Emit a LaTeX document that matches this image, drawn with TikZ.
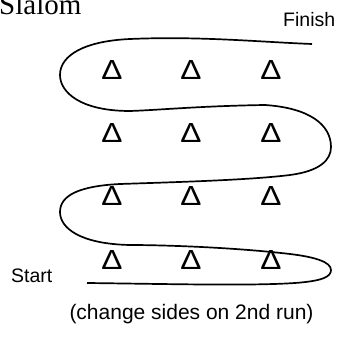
\documentclass[tikz,border=0pt]{standalone}
\usepackage{fontspec}
\setmainfont{Liberation Serif}
\newfontfamily\arial{Liberation Sans}
\begin{document}
\begin{tikzpicture}[x=1pt,y=-1pt,
  cone/.style={inner sep=0pt,font=\arial\fontsize{24}{24}\selectfont},
  lbl/.style={inner sep=0pt,anchor=base west,font=\arial\fontsize{19.5}{20}\selectfont},
  course/.style={line width=1.7pt}]
\useasboundingbox (0,0) rectangle (341,337);
\clip (0,0) rectangle (341,337);
\node[inner sep=0pt,anchor=base west,font=\fontsize{29}{30}\selectfont] (title) at (-1,15) {Slalom};
\node[lbl] (finish) at (283,27) {Finish};
\node[lbl] (start) at (11,283) {Start};
\node[inner sep=0pt,anchor=base,font=\arial\fontsize{21}{22}\selectfont] (note) at (191.5,320) {(change sides on 2nd run)};
\foreach \r/\y in {1/70,2/133,3/196,4/260}{
  \foreach \c/\x in {1/112,2/191,3/271}{
    \node[cone] (c\r\c) at (\x,\y) {\scalebox{1.32}[1.15]{Δ}};
  }
}
\coordinate (s) at (87,283);
\coordinate (e) at (312,44);
\draw[course] (s) .. controls (170,284) and (250,286) .. (295,283)
  .. controls (322,281) and (331,277) .. (331,270)
  .. controls (331,262) and (315,257) .. (290,254)
  .. controls (230,247) and (160,245) .. (130,245)
  .. controls (80,244) and (60,228) .. (60,212)
  .. controls (60,195) and (80,186) .. (120,184)
  .. controls (180,182) and (250,180) .. (290,175)
  .. controls (320,171) and (331,160) .. (331,147)
  .. controls (331,125) and (310,108) .. (265,105)
  .. controls (200,106) and (160,110) .. (130,111)
  .. controls (80,111) and (60,92) .. (60,75)
  .. controls (60,55) and (85,41) .. (130,39)
  .. controls (200,36) and (260,42) .. (e);
\end{tikzpicture}
\end{document}
